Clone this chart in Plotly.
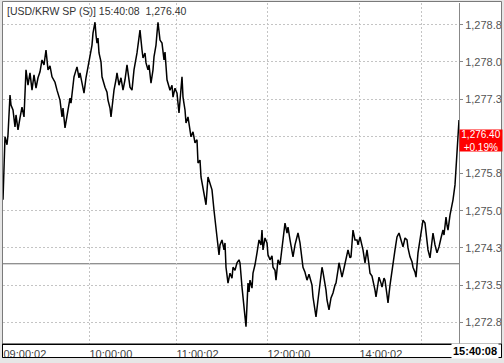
import plotly.graph_objects as go

# ---- data ----
tick_index = [0, 1, 2, 4, 5, 7, 8, 10, 12, 13, 15, 17, 19, 21, 23, 25, 27, 29, 31, 33, 35, 37, 39, 41, 43, 45, 47, 49,
              52, 54, 57, 59, 60, 62, 64, 65, 67, 68, 71, 74, 76, 77, 79, 81, 83, 84, 87, 89, 90, 92, 93, 94, 95, 96,
              98, 99, 102, 104, 105, 107, 108, 110, 111, 113, 114, 116, 118, 120, 122, 124, 125, 127, 129, 131, 134,
              136, 137, 139, 140, 142, 143, 145, 146, 148, 150, 151, 153, 154, 155, 157, 159, 161, 162, 164, 167, 169,
              170, 172, 174, 176, 177, 179, 180, 182, 183, 185, 188, 190, 192, 194, 195, 197, 198, 200, 203, 205, 207,
              209, 211, 213, 214, 216, 217, 219, 221, 222, 223, 225, 227, 229, 230, 232, 234, 236, 237, 239, 240, 241,
              243, 245, 246, 247, 249, 250, 252, 254, 256, 258, 259, 260, 262, 264, 265, 267, 269, 270, 272, 273, 275,
              277, 279, 281, 282, 284, 285, 287, 289, 290, 292, 293, 295, 297, 298, 300, 302, 304, 306, 307, 309, 310,
              312, 313, 315, 317, 319, 320, 321, 323, 324, 326, 328, 330, 332, 333, 335, 336, 338, 339, 341, 342, 344,
              345, 347, 348, 350, 352, 354, 355, 357, 359, 360, 362, 364, 366, 367, 369, 370, 372, 373, 375, 376, 378,
              379, 381, 382, 384, 385, 387, 388, 390, 392, 394, 396, 398, 400, 402, 404, 405, 407, 409, 410, 412, 413,
              415, 417, 419, 420, 422, 424, 425, 427, 428, 430, 432, 434, 435, 436, 438, 440, 441, 443, 444, 445, 447,
              448, 450, 452, 453, 454, 455, 456]
price = [1275.27, 1276.27, 1276.54, 1276.38, 1276.58, 1277.38, 1277.18, 1277.08, 1276.74, 1276.98, 1276.68, 1276.92,
         1277.14, 1276.94, 1277.89, 1277.58, 1277.83, 1277.48, 1277.79, 1277.52, 1277.73, 1277.85, 1278.09, 1277.99,
         1278.29, 1277.89, 1277.97, 1277.75, 1277.64, 1277.48, 1277.28, 1276.94, 1277.12, 1276.72, 1276.98, 1277.08,
         1277.32, 1277.22, 1277.75, 1277.95, 1277.73, 1277.83, 1277.58, 1277.42, 1277.73, 1277.83, 1278.15, 1278.39,
         1278.63, 1278.85, 1278.59, 1278.43, 1278.53, 1278.23, 1278.05, 1277.75, 1277.54, 1277.44, 1277.28, 1277.12,
         1276.94, 1277.28, 1277.48, 1277.69, 1277.83, 1277.58, 1277.73, 1277.48, 1277.69, 1277.99, 1277.79, 1277.54,
         1277.48, 1277.89, 1278.23, 1278.49, 1278.69, 1278.29, 1278.13, 1278.23, 1278.03, 1277.89, 1277.99, 1277.62,
         1277.89, 1278.15, 1278.39, 1278.63, 1278.85, 1278.49, 1278.43, 1278.09, 1278.25, 1277.69, 1277.48, 1277.58,
         1277.34, 1277.52, 1277.42, 1277.02, 1277.28, 1277.75, 1277.34, 1277.08, 1276.82, 1276.94, 1276.54, 1276.64,
         1276.42, 1276.48, 1276.01, 1276.07, 1275.73, 1275.47, 1275.17, 1275.73, 1275.57, 1275.47, 1275.06, 1274.76,
         1274.52, 1274.16, 1274.36, 1274.46, 1274.26, 1274.40, 1273.91, 1273.59, 1273.79, 1273.69, 1273.91, 1273.85,
         1274.00, 1274.06, 1274.00, 1273.51, 1273.31, 1273.11, 1272.71, 1273.59, 1273.41, 1273.65, 1273.49, 1273.79,
         1273.96, 1274.20, 1274.46, 1274.36, 1274.66, 1274.26, 1274.50, 1274.40, 1274.16, 1274.06, 1274.14, 1273.91,
         1273.85, 1273.65, 1274.06, 1273.96, 1274.26, 1274.56, 1274.80, 1274.60, 1274.72, 1274.46, 1274.26, 1274.12,
         1274.36, 1274.46, 1274.60, 1274.40, 1274.26, 1273.91, 1273.81, 1273.65, 1273.77, 1273.71, 1273.55, 1273.31,
         1273.09, 1272.91, 1273.25, 1273.55, 1273.91, 1273.81, 1273.71, 1273.45, 1273.25, 1273.05, 1273.29, 1273.39,
         1273.55, 1273.59, 1273.85, 1274.00, 1273.81, 1273.71, 1273.89, 1274.00, 1274.16, 1274.26, 1274.10, 1274.12,
         1274.66, 1274.46, 1274.46, 1274.36, 1274.52, 1274.36, 1274.26, 1274.00, 1274.26, 1273.96, 1273.79, 1273.73,
         1273.65, 1273.45, 1273.31, 1273.55, 1273.71, 1273.59, 1273.51, 1273.69, 1273.65, 1273.35, 1273.19, 1273.55,
         1273.71, 1274.06, 1274.26, 1274.52, 1274.60, 1274.46, 1274.32, 1274.50, 1274.46, 1274.30, 1274.12, 1274.02,
         1273.91, 1273.81, 1273.71, 1274.20, 1274.46, 1274.70, 1274.86, 1274.80, 1274.40, 1274.26, 1274.10, 1274.26,
         1274.60, 1274.36, 1274.20, 1274.26, 1274.32, 1274.50, 1274.66, 1274.56, 1274.92, 1274.76, 1274.66, 1274.96,
         1275.06, 1275.27, 1275.57, 1275.87, 1276.17, 1276.58, 1276.88, 1276.40]

x_tick_pos = [0, 86, 173, 264, 356, 418]
x_tick_text = ["09:00:02", "10:00:00", "11:00:02", "12:00:00", "14:00:02", ""]
prev_close = 1273.98
last_price = 1276.40
change_pct = "+0.19%"
last_time = "15:40:08"
title_text = "[USD/KRW SP (S)] 15:40:08\u00a0 1,276.40"
y_range = [1272.3625, 1279.2375]
x_range = [0, 456]

FONT = "Liberation Sans, Arial, sans-serif"
GRID = "#c4c4c4"
BG = "#e6e6e6"

fig = go.Figure()
fig.add_trace(go.Scatter(x=tick_index, y=price, mode="lines",
                         line=dict(color="#000000", width=1.5), hoverinfo="skip"))

PX_W, PX_H = 456.0, 341.0
def px(xp):
    return (xp - 3) / PX_W
def py(yp):
    return (344 - yp) / PX_H

shapes = [
    dict(type="rect", xref="paper", yref="paper", x0=px(2.5), x1=px(501.5), y0=py(357.5), y1=py(1.5),
         fillcolor="white", line=dict(width=0), layer="below"),
    dict(type="line", xref="paper", yref="y", x0=0, x1=1, y0=prev_close, y1=prev_close,
         line=dict(color="#6a6a6a", width=1), layer="below"),
    dict(type="rect", xref="paper", yref="paper", x0=px(501.5), x1=px(505), y0=py(364), y1=py(-1),
         fillcolor=BG, line=dict(width=0), layer="above"),
    dict(type="rect", xref="paper", yref="paper", x0=px(2.5), x1=px(501.5), y0=py(357.5), y1=py(1.5),
         fillcolor="rgba(0,0,0,0)", line=dict(color="#7a7a7a", width=1), layer="above"),
    dict(type="rect", xref="paper", yref="paper", x0=px(2.5), x1=px(501.5), y0=py(357.5), y1=py(344),
         fillcolor="rgba(0,0,0,0)", line=dict(color="#000000", width=1), layer="above"),
]

annotations = [
    dict(text=title_text, xref="paper", yref="paper", x=px(5), y=py(11), xanchor="left", yanchor="middle",
         showarrow=False, font=dict(family=FONT, size=10.5, color="#333333")),
    dict(text=f"{last_price:,.2f}<br>{change_pct}", xref="paper", yref="y", x=1.0, y=last_price,
         xanchor="left", yanchor="middle", yshift=3, showarrow=False, align="center",
         bgcolor="#ff0000", width=42, height=21, borderpad=0,
         font=dict(family=FONT, size=10, color="white")),
    dict(text=f"<b>{last_time}</b>", xref="paper", yref="paper", x=px(499), y=py(351), xanchor="right",
         yanchor="middle", showarrow=False, bgcolor="white",
         font=dict(family=FONT, size=11, color="#000000")),
]

fig.update_layout(
    width=504, height=363,
    margin=dict(l=3, r=45, t=3, b=19, pad=0, autoexpand=False),
    paper_bgcolor=BG, plot_bgcolor="white",
    showlegend=False,
    font=dict(family=FONT, size=11, color="#444444"),
    shapes=shapes, annotations=annotations,
    xaxis=dict(range=x_range, tickmode="array", tickvals=x_tick_pos, ticktext=x_tick_text,
               showgrid=True, gridcolor=GRID, griddash="2px,2px", gridwidth=1, automargin=False,
               ticks="", ticklabelposition="outside right", showline=True, linecolor="#000000",
               linewidth=1, zeroline=False, fixedrange=True,
               tickfont=dict(family=FONT, size=11, color="#444444")),
    yaxis=dict(range=y_range, side="right", tick0=1272.80, dtick=0.75, tickformat=",.2f",
               showgrid=True, gridcolor=GRID, griddash="2px,2px", gridwidth=1, automargin=False,
               ticks="outside", ticklen=3, tickcolor="#888888", showline=True, linecolor="#888888",
               linewidth=1, zeroline=False, fixedrange=True,
               tickfont=dict(family=FONT, size=11, color="#555555")),
)

fig.write_html("out.html", config={"displayModeBar": False})
